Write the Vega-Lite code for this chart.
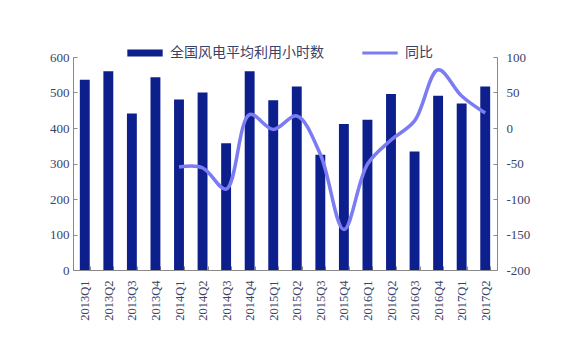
{
  "$schema": "https://vega.github.io/schema/vega-lite/v6.json",
  "width": 424,
  "height": 213,
  "autosize": {"type": "none"},
  "padding": {"left": 73, "top": 57, "right": 68, "bottom": 88},
  "background": "white",
  "config": {
    "view": {"stroke": null},
    "axis": {
      "labelFont": "Liberation Serif",
      "labelFontSize": 13,
      "labelColor": "#3b4268",
      "domainColor": "#8a8a8a",
      "tickColor": "#8a8a8a",
      "grid": false,
      "title": null
    }
  },
  "data": {
    "values": [
      {"q": "2013Q1", "hours": 536, "yoy": null, "s1": "全国风电平均利用小时数"},
      {"q": "2013Q2", "hours": 560, "yoy": null, "s1": "全国风电平均利用小时数"},
      {"q": "2013Q3", "hours": 441, "yoy": null, "s1": "全国风电平均利用小时数"},
      {"q": "2013Q4", "hours": 543, "yoy": null, "s1": "全国风电平均利用小时数"},
      {"q": "2014Q1", "hours": 480, "yoy": -55, "s1": "全国风电平均利用小时数"},
      {"q": "2014Q2", "hours": 500, "yoy": -56, "s1": "全国风电平均利用小时数"},
      {"q": "2014Q3", "hours": 357, "yoy": -86, "s1": "全国风电平均利用小时数"},
      {"q": "2014Q4", "hours": 560, "yoy": 19, "s1": "全国风电平均利用小时数"},
      {"q": "2015Q1", "hours": 478, "yoy": -2, "s1": "全国风电平均利用小时数"},
      {"q": "2015Q2", "hours": 517, "yoy": 17, "s1": "全国风电平均利用小时数"},
      {"q": "2015Q3", "hours": 325, "yoy": -37, "s1": "全国风电平均利用小时数"},
      {"q": "2015Q4", "hours": 411, "yoy": -143, "s1": "全国风电平均利用小时数"},
      {"q": "2016Q1", "hours": 423, "yoy": -51, "s1": "全国风电平均利用小时数"},
      {"q": "2016Q2", "hours": 496, "yoy": -17, "s1": "全国风电平均利用小时数"},
      {"q": "2016Q3", "hours": 334, "yoy": 10, "s1": "全国风电平均利用小时数"},
      {"q": "2016Q4", "hours": 491, "yoy": 82, "s1": "全国风电平均利用小时数"},
      {"q": "2017Q1", "hours": 469, "yoy": 45, "s1": "全国风电平均利用小时数"},
      {"q": "2017Q2", "hours": 517, "yoy": 21, "s1": "全国风电平均利用小时数"}
    ]
  },
  "encoding": {
    "x": {
      "field": "q",
      "type": "ordinal",
      "sort": null,
      "scale": {"paddingInner": 0.58, "paddingOuter": 0.29},
      "axis": {
        "labelAngle": 270,
        "labelPadding": 14,
        "tickBand": "extent",
        "tickSize": -4,
        "labelFontSize": 12.5
      }
    }
  },
  "layer": [
    {
      "mark": {"type": "bar"},
      "encoding": {
        "y": {
          "field": "hours",
          "type": "quantitative",
          "scale": {"domain": [0, 600], "nice": false},
          "axis": {"values": [0, 100, 200, 300, 400, 500, 600], "tickSize": -4, "labelPadding": 8}
        },
        "color": {
          "field": "s1",
          "type": "nominal",
          "scale": {"domain": ["全国风电平均利用小时数", "同比"], "range": ["#0d1f8c", "#7b7cf4"]},
          "legend": {
            "orient": "none",
            "legendX": 54,
            "legendY": -22,
            "direction": "horizontal",
            "title": null,
            "padding": 0,
            "columnPadding": 38,
            "labelFont": "Noto Sans CJK SC",
            "labelFontSize": 14,
            "labelColor": "#3b4268",
            "labelLimit": 400,
            "labelOffset": 7,
            "symbolSize": 1250,
            "symbolStrokeWidth": 0,
            "symbolType": "M-1,-0.2H1V0.2H-1Z",
            "encode": {
              "symbols": {
                "update": {
                  "shape": {"signal": "datum.value === '同比' ? 'M-1,-0.08H1V0.08H-1Z' : 'M-1,-0.2H1V0.2H-1Z'"}
                }
              }
            }
          }
        }
      }
    },
    {
      "mark": {"type": "line", "interpolate": "catmull-rom", "strokeWidth": 3.5, "color": "#7b7cf4"},
      "transform": [{"filter": "datum.yoy != null"}],
      "encoding": {
        "y": {
          "field": "yoy",
          "type": "quantitative",
          "scale": {"domain": [-200, 100], "nice": false},
          "axis": {
            "orient": "right",
            "values": [-200, -150, -100, -50, 0, 50, 100],
            "labelExpr": "'' + datum.value",
            "tickSize": -4,
            "labelPadding": 13
          }
        }
      }
    }
  ],
  "resolve": {"scale": {"y": "independent"}}
}
